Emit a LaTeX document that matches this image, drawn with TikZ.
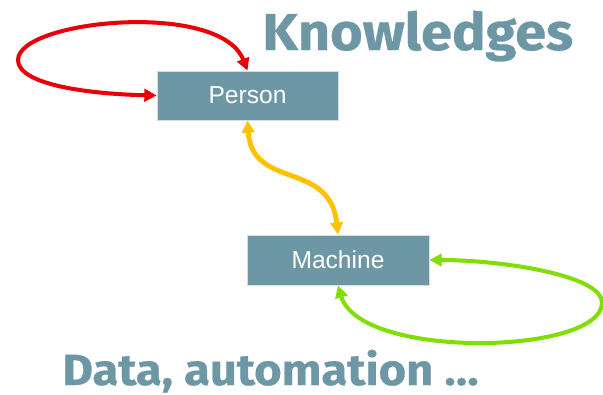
\documentclass[tikz,border=0pt]{standalone}
\usepackage{fontspec}
\setsansfont{Liberation Sans}
\newfontfamily\titlefont{Fira Sans}[BoldFeatures={FakeStretch=1.08,FakeBold=0.6}]
\usetikzlibrary{arrows.meta}
\definecolor{slate}{RGB}{110,151,166}
\definecolor{boxedge}{RGB}{215,222,226}
\definecolor{loopred}{RGB}{232,0,8}
\definecolor{linkyellow}{RGB}{255,194,0}
\definecolor{loopgreen}{RGB}{128,222,0}
\begin{document}
\begin{tikzpicture}[scale=0.2]
  \tikzstyle{every node}+=[inner sep=0pt]
  \tikzstyle{box}=[draw=boxedge, line width=0.4pt, fill=slate, text=white,
    font=\sffamily\fontsize{14}{16}\selectfont]
  \tikzstyle{title}=[text=slate, font=\titlefont\bfseries\fontsize{29.5}{34}\selectfont]
  \tikzstyle{loop}=[line width=2.3pt, {Triangle[width=7pt,length=7pt]}-{Triangle[width=7pt,length=7pt]}]
  \useasboundingbox (0,0) rectangle (60.3,-39.4);
  \node [box, minimum width=3.62cm, minimum height=0.98cm] (person) at (24.75,-9.55) {Person};
  \node [box, minimum width=3.64cm, minimum height=1cm] (machine) at (33.8,-26) {Machine};
  \node [title, anchor=base west] (knowledges) at (26.2,-5) {Knowledges};
  \node [title, anchor=base west, font=\titlefont\bfseries\fontsize{24.8}{30}\selectfont] (data) at (6.2,-38.5) {Data, automation \dots};
  % loops and link
  \draw [loop, loopred] (person.west) .. controls (9,-9.4) and (1.8,-8.5) .. (1.8,-6)
    .. controls (1.8,-2) and (22,0) .. (person.north);
  \draw [loop, linkyellow, line width=2.8pt] (person.south) .. controls (25.2,-19) and (33,-16) .. (machine.north);
  \draw [loop, loopgreen] (machine.east) .. controls (50,-26) and (60.3,-27.5) .. (60.2,-30.3)
    .. controls (60.1,-35.5) and (36,-36) .. (machine.south);
\end{tikzpicture}
\end{document}
